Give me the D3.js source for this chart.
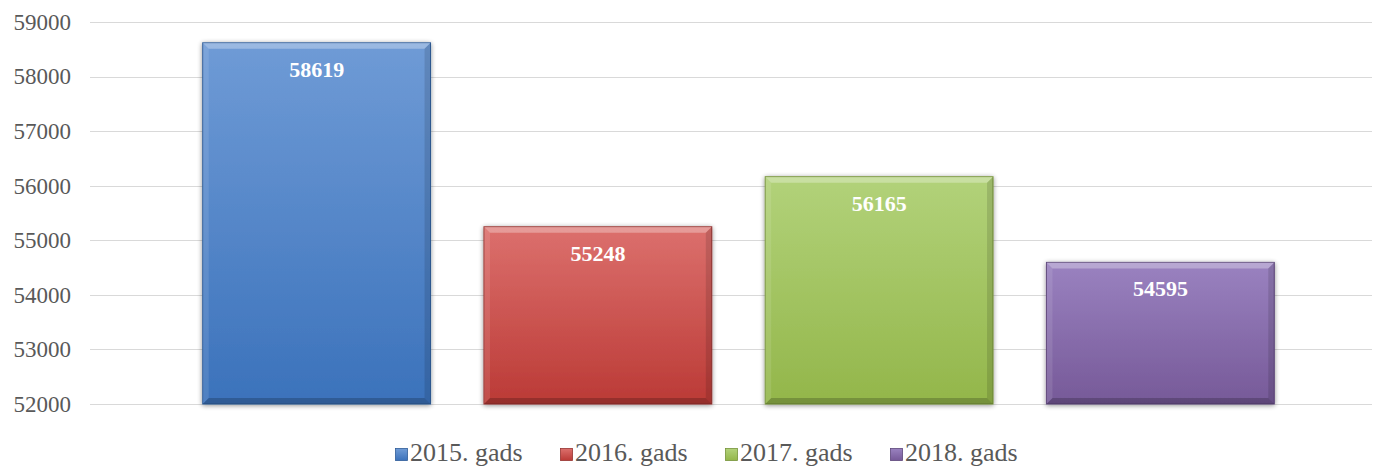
<!DOCTYPE html>
<html>
<head>
<meta charset="utf-8">
<style>
  body { margin: 0; background: #ffffff; }
  text { font-family: "Liberation Serif", "Times New Roman", serif; }
</style>
<script src="https://d3js.org/d3.v7.min.js"></script>
</head>
<body>
<div id="chart"></div>
<script>
var categories = ["2015. gads", "2016. gads", "2017. gads", "2018. gads"];
var values = [58619, 55248, 56165, 54595];
var yTicks = [52000, 53000, 54000, 55000, 56000, 57000, 58000, 59000];
var colors = [
  { top: "#6f9bd6", bottom: "#3b72bb", edge: "#2f5c98" },
  { top: "#dc706d", bottom: "#bb3a36", edge: "#963330" },
  { top: "#b2d27a", bottom: "#93b64a", edge: "#76933a" },
  { top: "#9a82c0", bottom: "#765998", edge: "#5d467b" }
];

var W = 1376, H = 466;
var svg = d3.select("#chart").append("svg")
  .attr("width", W).attr("height", H);

var defs = svg.append("defs");
colors.forEach(function(c, i) {
  var g = defs.append("linearGradient").attr("id", "grad" + i)
    .attr("x1", 0).attr("y1", 0).attr("x2", 0).attr("y2", 1);
  g.append("stop").attr("offset", "0%").attr("stop-color", c.top);
  g.append("stop").attr("offset", "100%").attr("stop-color", c.bottom);
});
var f = defs.append("filter").attr("id", "shadow")
  .attr("x", "-10%").attr("y", "-10%").attr("width", "120%").attr("height", "120%");
f.append("feGaussianBlur").attr("in", "SourceAlpha").attr("stdDeviation", 2.5).attr("result", "b");
f.append("feOffset").attr("in", "b").attr("dx", 0).attr("dy", 1).attr("result", "o");
f.append("feComponentTransfer").attr("in", "o").attr("result", "s")
  .append("feFuncA").attr("type", "linear").attr("slope", 0.45);
var m = f.append("feMerge");
m.append("feMergeNode").attr("in", "s");
m.append("feMergeNode").attr("in", "SourceGraphic");

var y = d3.scaleLinear().domain([52000, 59000]).range([404, 22]);
var x = d3.scaleBand().domain(categories).range([176, 1301]).paddingInner(0.19).paddingOuter(0.095);

// gridlines
svg.append("g").selectAll("line").data(yTicks).enter().append("line")
  .attr("x1", 90).attr("x2", 1372)
  .attr("y1", function(d) { return Math.round(y(d)) + 0.5; })
  .attr("y2", function(d) { return Math.round(y(d)) + 0.5; })
  .attr("stroke", "#d9d9d9").attr("stroke-width", 1);

// y axis labels
var yAxis = d3.axisLeft(y).tickValues(yTicks).tickSize(0).tickPadding(0)
  .tickFormat(function(d) { return d; });
var ya = svg.append("g").attr("transform", "translate(71,0)").call(yAxis);
ya.select(".domain").remove();
ya.selectAll("text")
  .style("font-family", "'Liberation Serif', 'Times New Roman', serif")
  .style("font-size", "23px").attr("fill", "#595959").attr("dy", "0.32em");

// bars
var bars = svg.append("g").selectAll("g").data(values).enter().append("g");
bars.each(function(d, i) {
  var g = d3.select(this);
  var x0 = x(categories[i]), w = x.bandwidth();
  var y0 = y(d), y1 = y(52000), h = y1 - y0;
  var b = 6;
  g.append("rect").attr("x", x0).attr("y", y0).attr("width", w).attr("height", h)
    .attr("fill", "url(#grad" + i + ")").attr("stroke", colors[i].edge)
    .attr("stroke-width", 1).attr("filter", "url(#shadow)");
  // bevel: top light, bottom dark, sides
  g.append("polygon")
    .attr("points", [[x0, y0], [x0 + w, y0], [x0 + w - b, y0 + b], [x0 + b, y0 + b]].join(" "))
    .attr("fill", "#ffffff").attr("opacity", 0.3);
  g.append("polygon")
    .attr("points", [[x0, y0], [x0 + b, y0 + b], [x0 + b, y1 - b], [x0, y1]].join(" "))
    .attr("fill", "#ffffff").attr("opacity", 0.1);
  g.append("polygon")
    .attr("points", [[x0 + w, y0], [x0 + w - b, y0 + b], [x0 + w - b, y1 - b], [x0 + w, y1]].join(" "))
    .attr("fill", "#000000").attr("opacity", 0.12);
  g.append("polygon")
    .attr("points", [[x0, y1], [x0 + b, y1 - b], [x0 + w - b, y1 - b], [x0 + w, y1]].join(" "))
    .attr("fill", "#000000").attr("opacity", 0.2);
  g.append("text")
    .attr("x", x0 + w / 2).attr("y", y0 + 34)
    .attr("text-anchor", "middle")
    .style("font-size", "22px").style("font-weight", "bold")
    .attr("fill", "#ffffff").text(d);
});

// legend
var leg = svg.append("g");
categories.forEach(function(c, i) {
  var g = leg.append("g").attr("transform", "translate(" + (395 + i * 165) + ",0)");
  g.append("rect").attr("x", 0.5).attr("y", 448.5).attr("width", 12).attr("height", 12)
    .attr("fill", "url(#grad" + i + ")").attr("stroke", colors[i].edge).attr("stroke-width", 0.8);
  g.append("text").attr("x", 15).attr("y", 461)
    .style("font-size", "26px").attr("fill", "#595959")
    .text(c);
});
</script>
</body>
</html>
